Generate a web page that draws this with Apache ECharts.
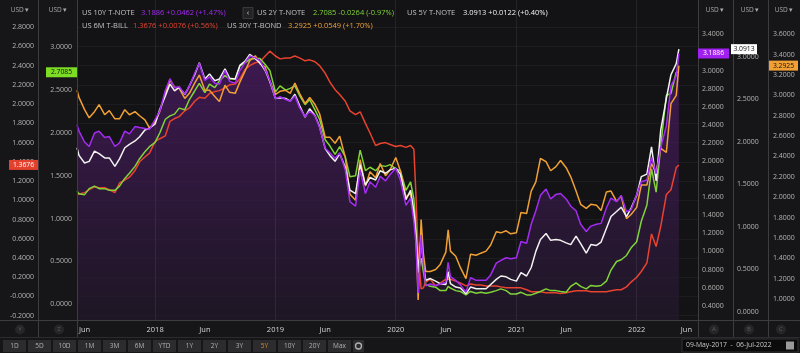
<!DOCTYPE html>
<html>
<head>
<meta charset="utf-8">
<script src="https://cdn.jsdelivr.net/npm/echarts@6/dist/echarts.min.js"></script>
<style>
html, body { margin: 0; padding: 0; background: #161618; }
#chart { width: 800px; height: 353px; }
</style>
</head>
<body>
<div id="chart"></div>
<script>
// sample dates (roughly twice a month, extra points around the March 2020 crash)
const dates = [
  '2017-05-09','2017-05-15','2017-06-01','2017-06-15','2017-07-01','2017-07-15','2017-08-01','2017-08-15',
  '2017-09-01','2017-09-15','2017-10-01','2017-10-15','2017-11-01','2017-11-15','2017-12-01','2017-12-15',
  '2018-01-01','2018-01-15','2018-02-01','2018-02-15','2018-03-01','2018-03-15','2018-04-01','2018-04-15',
  '2018-05-01','2018-05-15','2018-06-01','2018-06-15','2018-07-01','2018-07-15','2018-08-01','2018-08-15',
  '2018-09-01','2018-09-15','2018-10-01','2018-10-15','2018-11-01','2018-11-15','2018-12-01','2018-12-15',
  '2019-01-01','2019-01-15','2019-02-01','2019-02-15','2019-03-01','2019-03-15','2019-04-01','2019-04-15',
  '2019-05-01','2019-05-15','2019-06-01','2019-06-15','2019-07-01','2019-07-15','2019-08-01','2019-08-15',
  '2019-09-01','2019-09-15','2019-10-01','2019-10-15','2019-11-01','2019-11-15','2019-12-01','2019-12-15',
  '2020-01-01','2020-01-15','2020-02-01','2020-02-15','2020-02-25','2020-03-02','2020-03-09','2020-03-18',
  '2020-03-25','2020-04-01','2020-04-15','2020-05-01','2020-05-15','2020-06-01','2020-06-08','2020-06-15',
  '2020-07-01','2020-07-15','2020-08-01','2020-08-15','2020-09-01','2020-09-15','2020-10-01','2020-10-15',
  '2020-11-01','2020-11-15','2020-12-01','2020-12-15',
  '2021-01-01','2021-01-15','2021-02-01','2021-02-15','2021-03-01','2021-03-15','2021-04-01','2021-04-15',
  '2021-05-01','2021-05-15','2021-06-01','2021-06-15','2021-07-01','2021-07-15','2021-08-01','2021-08-15',
  '2021-09-01','2021-09-15','2021-10-01','2021-10-15','2021-11-01','2021-11-15','2021-12-01','2021-12-15',
  '2022-01-01','2022-01-15','2022-02-01','2022-02-15','2022-03-01','2022-03-15','2022-04-01','2022-04-15',
  '2022-05-01','2022-05-09'
];

const us10y = [
  2.40,2.33,2.21,2.16,2.31,2.33,2.26,2.27,2.16,2.20,2.33,2.30,2.38,2.37,2.36,2.35,
  2.46,2.55,2.78,2.91,2.81,2.82,2.74,2.83,2.97,3.08,2.89,2.93,2.86,2.85,3.00,2.88,2.86,3.00,3.09,3.16,3.14,3.11,3.01,2.89,
  2.69,2.71,2.68,2.66,2.72,2.59,2.49,2.55,2.50,2.37,2.14,2.09,2.03,2.09,1.90,1.55,1.50,1.90,1.64,1.77,1.71,1.83,1.78,1.85,
  1.92,1.79,1.51,1.59,1.33,1.10,0.54,1.18,0.85,0.62,0.64,0.62,0.64,0.66,0.88,0.72,0.68,0.63,0.55,0.71,0.68,0.68,0.68,0.74,0.87,0.90,0.93,0.92,
  0.93,1.11,1.09,1.30,1.45,1.62,1.69,1.58,1.63,1.64,1.58,1.50,1.45,1.30,1.22,1.28,1.30,1.31,1.48,1.59,1.55,1.62,1.44,1.46,
  1.63,1.77,1.79,2.04,1.86,2.15,2.39,2.83,2.94,3.1886
];
const us5y = [
  1.93,1.84,1.75,1.77,1.89,1.86,1.81,1.81,1.71,1.80,1.93,1.97,2.01,2.06,2.14,2.16,
  2.21,2.38,2.54,2.68,2.60,2.64,2.56,2.66,2.79,2.93,2.74,2.80,2.72,2.74,2.86,2.75,2.74,2.90,2.95,3.03,2.98,2.93,2.84,2.71,
  2.51,2.52,2.51,2.48,2.56,2.43,2.29,2.39,2.31,2.18,1.92,1.84,1.77,1.86,1.70,1.43,1.39,1.73,1.49,1.58,1.55,1.66,1.63,1.67,
  1.69,1.62,1.32,1.43,1.18,0.91,0.46,0.89,0.55,0.37,0.39,0.36,0.33,0.32,0.47,0.33,0.29,0.28,0.21,0.29,0.27,0.27,0.27,0.32,0.38,0.42,0.41,0.38,
  0.36,0.46,0.42,0.52,0.71,0.85,0.92,0.84,0.85,0.84,0.81,0.79,0.89,0.80,0.69,0.79,0.78,0.82,0.98,1.12,1.18,1.23,1.12,1.22,
  1.37,1.59,1.62,1.94,1.54,2.14,2.51,2.79,2.92,3.0913
];
const us2y = [
  1.32,1.29,1.28,1.35,1.38,1.35,1.35,1.33,1.33,1.38,1.47,1.53,1.61,1.70,1.78,1.84,
  1.89,2.00,2.16,2.20,2.22,2.29,2.27,2.39,2.49,2.58,2.47,2.57,2.53,2.61,2.67,2.63,2.63,2.78,2.82,2.86,2.87,2.87,2.80,2.73,
  2.48,2.55,2.50,2.52,2.55,2.44,2.33,2.39,2.27,2.16,1.92,1.85,1.75,1.84,1.72,1.49,1.50,1.80,1.56,1.60,1.56,1.62,1.61,1.63,
  1.58,1.56,1.33,1.43,1.23,0.91,0.38,0.54,0.38,0.23,0.21,0.20,0.16,0.16,0.21,0.19,0.16,0.15,0.11,0.15,0.13,0.14,0.13,0.14,0.16,0.18,0.16,0.12,
  0.12,0.14,0.11,0.11,0.13,0.15,0.18,0.16,0.16,0.15,0.14,0.21,0.25,0.21,0.18,0.22,0.21,0.22,0.27,0.40,0.50,0.52,0.57,0.66,
  0.73,0.97,1.16,1.58,1.31,1.85,2.44,2.46,2.71,2.7085
];
const us6m = [
  1.06,1.06,1.08,1.11,1.14,1.13,1.13,1.11,1.08,1.18,1.21,1.24,1.31,1.40,1.45,1.49,
  1.61,1.64,1.67,1.82,1.85,1.87,1.93,1.96,2.03,2.07,2.06,2.11,2.13,2.14,2.17,2.20,2.21,2.26,2.36,2.40,2.43,2.44,2.50,2.55,
  2.50,2.47,2.48,2.48,2.50,2.48,2.45,2.46,2.44,2.40,2.32,2.23,2.15,2.10,2.03,1.93,1.89,1.92,1.80,1.70,1.57,1.59,1.60,1.58,
  1.56,1.57,1.55,1.57,1.53,1.08,0.46,0.08,0.09,0.15,0.18,0.11,0.14,0.18,0.18,0.18,0.16,0.14,0.11,0.13,0.12,0.12,0.11,0.11,0.11,0.10,0.09,0.09,
  0.09,0.09,0.07,0.05,0.05,0.05,0.04,0.04,0.04,0.03,0.04,0.05,0.06,0.06,0.06,0.05,0.05,0.05,0.05,0.06,0.07,0.07,0.10,0.15,
  0.20,0.26,0.35,0.65,0.52,0.73,1.06,1.11,1.34,1.3676
];
const us30y = [
  3.05,2.98,2.86,2.78,2.84,2.91,2.81,2.85,2.77,2.77,2.86,2.81,2.84,2.80,2.76,2.68,
  2.74,2.84,3.02,3.15,3.08,3.07,2.97,3.02,3.12,3.20,3.05,3.05,2.99,2.94,3.10,3.03,3.02,3.13,3.24,3.34,3.39,3.31,3.28,3.14,
  3.01,3.04,3.05,3.02,3.12,3.02,2.92,2.98,2.91,2.82,2.59,2.59,2.53,2.60,2.39,2.03,1.97,2.37,2.11,2.25,2.19,2.33,2.21,2.27,
  2.39,2.26,2.00,2.04,1.81,1.66,0.99,1.78,1.44,1.27,1.27,1.29,1.34,1.46,1.68,1.47,1.42,1.31,1.20,1.44,1.43,1.45,1.47,1.53,1.66,1.65,1.67,1.64,
  1.65,1.85,1.84,2.06,2.15,2.38,2.35,2.26,2.30,2.36,2.29,2.20,2.06,1.93,1.89,1.93,1.92,1.87,2.05,2.06,1.96,2.01,1.79,1.83,
  1.90,2.12,2.12,2.33,2.24,2.48,2.44,2.92,3.00,3.2925
];

// axis tick labels
const xTicks = ['2017-06-01','2018-01-01','2018-06-01','2019-01-01','2019-06-01','2020-01-01','2020-06-01','2021-01-01','2021-06-01','2022-01-01','2022-06-01'];
const yearLines = ['2018-01-01','2019-01-01','2020-01-01','2021-01-01','2022-01-01'];
const ticksY = [-0.2,0,0.2,0.4,0.6,0.8,1.0,1.2,1.4,1.6,1.8,2.0,2.2,2.4,2.6,2.8];
const ticksZ = [0,0.5,1.0,1.5,2.0,2.5,3.0];
const ticksA = [0.4,0.6,0.8,1.0,1.2,1.4,1.6,1.8,2.0,2.2,2.4,2.6,2.8,3.0,3.2,3.4];
const ticksB = [0,0.5,1.0,1.5,2.0,2.5,3.0];
const ticksC = [1.0,1.2,1.4,1.6,1.8,2.0,2.2,2.4,2.6,2.8,3.0,3.2,3.4,3.6];

// header quotes
const quoteNames = ['US 10Y T-NOTE','US 2Y T-NOTE','US 5Y T-NOTE','US 6M T-BILL','US 30Y T-BOND'];
const quoteChange = ['+0.0462 (+1.47%)','-0.0264 (-0.97%)','+0.0122 (+0.40%)','+0.0076 (+0.56%)','+0.0549 (+1.70%)'];
const ranges = ['1D','5D','10D','1M','3M','6M','YTD','1Y','2Y','3Y','5Y','10Y','20Y','Max'];

const C10 = '#a42cf2', C2 = '#80d43a', C5 = '#f2f2f2', C6 = '#e8432f', C30 = '#f0a035';
const FONT = '"Open Sans", "Noto Sans", sans-serif';
const T = s => Date.parse(s + 'T00:00:00Z');
const pts = vals => dates.map((d, i) => [T(d), vals[i]]);
const last = a => a[a.length - 1];

const chart = echarts.init(document.getElementById('chart'));

function yAxisOf(pos, offset, min, max, ticks, margin, fmt) {
  return {
    type: 'value', position: pos, offset: offset, min: min, max: max,
    axisLine: { show: false },
    axisTick: { show: false, customValues: ticks },
    splitLine: { show: false },
    axisLabel: {
      customValues: ticks, margin: margin, color: '#b4b4b4', fontSize: 7, fontFamily: FONT,
      formatter: fmt || (v => v.toFixed(4))
    }
  };
}

const lineSeries = (name, vals, axis, color, z) => ({
  name: name, type: 'line', yAxisIndex: axis, data: pts(vals),
  showSymbol: false, silent: true, z: z,
  lineStyle: { color: color, width: 1.5 }, itemStyle: { color: color }
});

const yLeft = yAxisOf('left', 39, -0.2443, 3.0821, ticksY, 4, v => Math.abs(v) < 1e-9 ? '-0.0000' : v.toFixed(4));
yLeft.splitLine = { show: true, lineStyle: { color: 'rgba(255,255,255,0.045)', width: 1 } };

chart.setOption({
  animation: false,
  backgroundColor: '#161618',
  grid: { left: 77, right: 102, top: 0, bottom: 33, show: true, backgroundColor: '#131315', borderWidth: 0 },
  xAxis: {
    type: 'value', min: T('2017-05-09'), max: T('2022-07-06'),
    axisLine: { show: false }, axisTick: { show: false }, splitLine: { show: false },
    axisLabel: {
      customValues: xTicks.map(T), color: '#d6d6d6', fontSize: 7.5, fontFamily: FONT, margin: 6,
      formatter: v => { const d = new Date(v); return d.getUTCMonth() === 0 ? String(d.getUTCFullYear()) : 'Jun'; }
    }
  },
  yAxis: [
    yLeft,
    yAxisOf('left', 0, -0.183, 3.552, ticksZ, 5),
    yAxisOf('right', 0, 0.2416, 3.780, ticksA, 4),
    yAxisOf('right', 35, -0.098, 3.670, ticksB, 4),
    yAxisOf('right', 70, 0.7937, 3.937, ticksC, 5)
  ],
  series: [
    {
      type: 'line', yAxisIndex: 2, data: pts(us10y), showSymbol: false, silent: true, z: 1,
      lineStyle: { width: 0 },
      areaStyle: {
        color: new echarts.graphic.LinearGradient(0, 0, 0, 1, [
          { offset: 0, color: '#501b6a' }, { offset: 1, color: '#22182b' }
        ])
      },
      markLine: {
        silent: true, symbol: 'none', label: { show: false },
        lineStyle: { color: 'rgba(255,255,255,0.07)', type: 'solid', width: 1 },
        data: yearLines.map(d => ({ xAxis: T(d) }))
      }
    },
    lineSeries(quoteNames[3], us6m, 0, C6, 2),
    lineSeries(quoteNames[1], us2y, 1, C2, 3),
    lineSeries(quoteNames[4], us30y, 4, C30, 4),
    lineSeries(quoteNames[2], us5y, 3, C5, 5),
    lineSeries(quoteNames[0], us10y, 2, C10, 6)
  ]
});

// chrome: dividers, headers, buttons
const txt = (x, y, text, fill, size, align, weight) => ({
  type: 'text', x: x, y: y, z: 60, silent: true,
  style: {
    text: text, fill: fill, font: (weight || 'normal') + ' ' + size + 'px ' + FONT,
    textAlign: align || 'left', align: align || 'left', textVerticalAlign: 'middle', verticalAlign: 'middle'
  }
});
const g = [];
[38, 77, 698, 733, 768].forEach(x => g.push({
  type: 'line', z: 40, silent: true, shape: { x1: x + 0.5, y1: 0, x2: x + 0.5, y2: 338 },
  style: { stroke: '#3d3d40', lineWidth: 1 }
}));
g.push({ type: 'line', z: 40, silent: true, shape: { x1: 0, y1: 320.5, x2: 800, y2: 320.5 }, style: { stroke: '#3d3d40', lineWidth: 1 } });
g.push({ type: 'line', z: 40, silent: true, shape: { x1: 0, y1: 337.5, x2: 800, y2: 337.5 }, style: { stroke: '#2c2c2e', lineWidth: 1 } });
[20, 58, 715, 750, 784].forEach(x => g.push(txt(x, 10, 'USD ▾', '#a8a8a8', 6.5, 'center')));
[['Y', 20], ['Z', 59], ['A', 714], ['B', 749], ['C', 781]].forEach(([l, x]) => {
  g.push({ type: 'circle', z: 40, silent: true, shape: { cx: x, cy: 329.5, r: 5 }, style: { fill: '#262628' } });
  g.push(txt(x, 329.5, l, '#5e5e62', 6, 'center'));
});
ranges.forEach((r, i) => {
  const x = 3 + i * 25;
  g.push({ type: 'rect', z: 40, silent: true, shape: { x: x, y: 340, width: 23, height: 12 }, style: { fill: '#2c2c2e' } });
  g.push(txt(x + 11.5, 346, r, r === '5Y' ? '#d98a2b' : '#b0b0b0', 6.5, 'center'));
});
g.push({ type: 'rect', z: 40, silent: true, shape: { x: 353, y: 340, width: 11, height: 12 }, style: { fill: '#2c2c2e' } });
g.push({ type: 'circle', z: 41, silent: true, shape: { cx: 358.5, cy: 346, r: 3 }, style: { fill: 'none', stroke: '#b0b0b0', lineWidth: 1.3 } });
g.push({ type: 'rect', z: 40, silent: true, shape: { x: 682, y: 339, width: 116, height: 13 }, style: { fill: '#0b0b0c', stroke: '#333336' } });
g.push(txt(686, 345.5, '09-May-2017  -  06-Jul-2022', '#c8c8c8', 6.8));
g.push({ type: 'rect', z: 41, silent: true, shape: { x: 786, y: 341.5, width: 8, height: 8 }, style: { fill: '#9a9a9a' } });

// header quotes
const nameCol = '#c2c2c2';
g.push(txt(82, 13, quoteNames[0], nameCol, 7.5));
g.push(txt(141, 13, last(us10y).toFixed(4) + ' ' + quoteChange[0], C10, 7.5));
g.push({ type: 'rect', z: 60, silent: true, shape: { x: 243, y: 7.5, width: 10, height: 11 }, style: { fill: '#222224', stroke: '#3a3a3c' } });
g.push(txt(248, 13, '‹', '#d0d0d0', 8, 'center'));
g.push(txt(257, 13, quoteNames[1], nameCol, 7.5));
g.push(txt(313, 13, last(us2y).toFixed(4) + ' ' + quoteChange[1], C2, 7.5));
g.push(txt(407, 13, quoteNames[2], nameCol, 7.5));
g.push(txt(463, 13, last(us5y).toFixed(4) + ' ' + quoteChange[2], C5, 7.5));
g.push(txt(82, 26, quoteNames[3], nameCol, 7.5));
g.push(txt(133, 26, last(us6m).toFixed(4) + ' ' + quoteChange[3], C6, 7.5));
g.push(txt(227, 26, quoteNames[4], nameCol, 7.5));
g.push(txt(288, 26, last(us30y).toFixed(4) + ' ' + quoteChange[4], C30, 7.5));

// last-value tags on each axis
const tags = [
  { axis: 0, val: last(us6m), x: 9, w: 29, bg: '#e4402e', fg: '#ffffff' },
  { axis: 1, val: last(us2y), x: 46, w: 31, bg: '#7ddc24', fg: '#101010' },
  { axis: 2, val: last(us10y), x: 698, w: 31, bg: '#a020f0', fg: '#ffffff' },
  { axis: 3, val: last(us5y), x: 731, w: 26, bg: '#ffffff', fg: '#101010' },
  { axis: 4, val: last(us30y), x: 769, w: 29, bg: '#f0a035', fg: '#101010' }
];
tags.forEach(t => {
  const y = chart.convertToPixel({ yAxisIndex: t.axis }, t.val);
  g.push({ type: 'rect', z: 70, silent: true, shape: { x: t.x, y: y - 5, width: t.w, height: 10 }, style: { fill: t.bg } });
  const lbl = txt(t.x + t.w / 2, y, t.val.toFixed(4), t.fg, 6.8, 'center');
  lbl.z = 71;
  g.push(lbl);
});

chart.setOption({ graphic: { elements: g } });
</script>
</body>
</html>
